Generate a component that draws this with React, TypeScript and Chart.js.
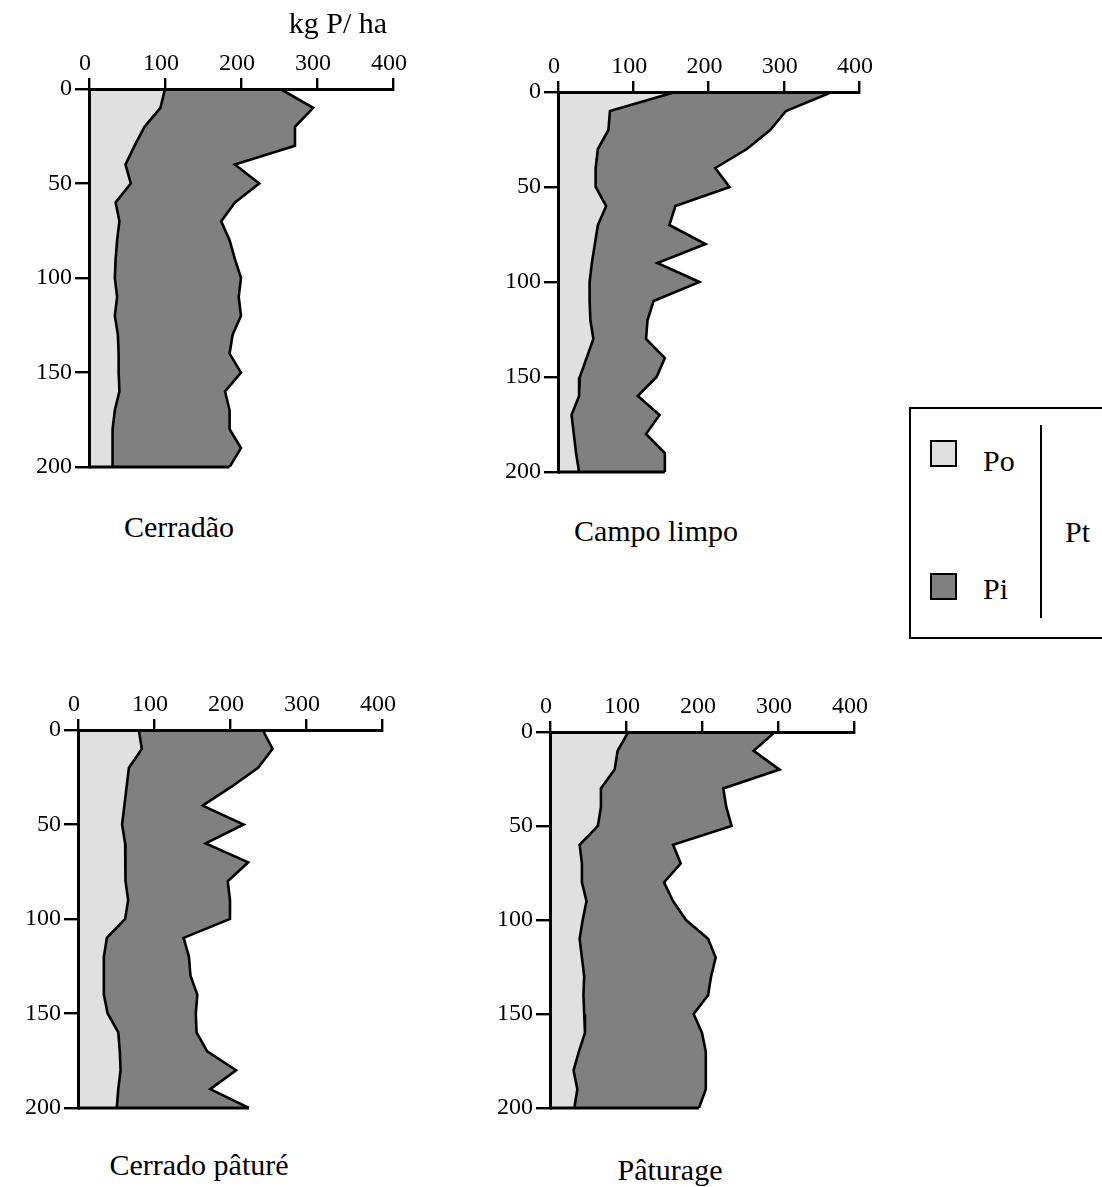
import React, { useEffect, useRef } from 'react';
import { Chart, registerables } from 'chart.js';

Chart.register(...registerables);

// ---- data ----
const depths = [0, 10, 20, 30, 40, 50, 60, 70, 80, 90, 100, 110, 120, 130, 140, 150, 160, 170, 180, 190, 200];
const xTickValues = [0, 100, 200, 300, 400];
const yTickValues = [0, 50, 100, 150, 200];
const axisTitle = 'kg P/ ha';
const panelTitles = ['Cerradão', 'Campo limpo', 'Cerrado pâturé', 'Pâturage'];
const legendLabels = ['Po', 'Pi', 'Pt'];

// Cerradão
const poCerradao = [100, 94, 73, 60, 48, 55, 35, 40, 37, 35, 34, 37, 34, 38, 39, 39, 40, 34, 31, 31, 31];
const ptCerradao = [252, 295, 271, 271, 192, 224, 192, 174, 185, 192, 200, 197, 200, 189, 185, 200, 179, 185, 185, 200, 185];
// Campo limpo
const poCampo = [156, 69, 67, 53, 50, 50, 64, 53, 49, 45, 42, 42, 43, 47, 38, 29, 28, 18, 21, 24, 28];
const ptCampo = [364, 303, 282, 251, 209, 228, 156, 148, 196, 132, 188, 127, 119, 117, 142, 131, 106, 135, 117, 142, 142];
// Cerrado pâturé
const poCerradoPature = [80, 84, 67, 64, 61, 58, 62, 62, 63, 66, 62, 38, 34, 34, 34, 39, 53, 55, 56, 53, 51];
const ptCerradoPature = [243, 256, 237, 202, 164, 218, 168, 224, 197, 200, 200, 139, 146, 148, 157, 155, 156, 170, 208, 174, 225];
// Pâturage
const poPaturage = [103, 89, 85, 67, 67, 63, 39, 42, 42, 48, 43, 39, 42, 45, 44, 45, 46, 38, 31, 36, 32];
const ptPaturage = [296, 268, 302, 228, 232, 239, 162, 172, 150, 162, 179, 208, 218, 212, 208, 189, 200, 205, 205, 205, 196];

// ---- styles ----
const FONT = '"Liberation Serif", "Times New Roman", serif';
const LIGHT = '#e0e0e0';
const DARK = '#808080';
const AXW = 80;
const AXH = 60;
const PR = 25;
const PB = 20;

const bottomEdge = {
  id: 'bottomEdge',
  afterDatasetsDraw(chart: any) {
    const xs = chart.scales.x;
    const ys = chart.scales.y;
    const pts = chart.data.datasets[1].data;
    const last = pts[pts.length - 1];
    const ctx = chart.ctx;
    ctx.save();
    ctx.strokeStyle = '#000';
    ctx.lineWidth = 3;
    ctx.beginPath();
    const yy = ys.getPixelForValue(last.y);
    ctx.moveTo(xs.getPixelForValue(0), yy);
    ctx.lineTo(xs.getPixelForValue(last.x), yy);
    ctx.stroke();
    ctx.restore();
  },
};

type Rect = { l: number; t: number; r: number; b: number };

function Panel({ rect, po, pt }: { rect: Rect; po: number[]; pt: number[] }) {
  const ref = useRef<HTMLCanvasElement | null>(null);
  const w = rect.r - rect.l + AXW + PR;
  const h = rect.b - rect.t + AXH + PB;
  useEffect(() => {
    const tickFont = { family: FONT, size: 24 };
    const chart = new Chart(ref.current as HTMLCanvasElement, {
      type: 'line',
      data: {
        datasets: [
          {
            label: legendLabels[0],
            data: depths.map((d, i) => ({ x: po[i], y: d })),
            borderColor: '#000',
            borderWidth: 2.6,
            backgroundColor: LIGHT,
            fill: 'origin',
            pointRadius: 0,
            tension: 0,
          },
          {
            label: legendLabels[2],
            data: depths.map((d, i) => ({ x: pt[i], y: d })),
            borderColor: '#000',
            borderWidth: 2.6,
            backgroundColor: DARK,
            fill: '-1',
            pointRadius: 0,
            tension: 0,
          },
        ],
      },
      options: {
        indexAxis: 'y',
        animation: false,
        responsive: false,
        maintainAspectRatio: false,
        layout: { padding: { left: 0, top: 0, right: PR, bottom: PB } },
        plugins: { legend: { display: false }, tooltip: { enabled: false } },
        scales: {
          x: {
            type: 'linear',
            position: 'top',
            min: xTickValues[0],
            max: xTickValues[xTickValues.length - 1],
            afterFit: (s: any) => { s.height = AXH; },
            afterBuildTicks: (s: any) => { s.ticks = xTickValues.map((v) => ({ value: v })); },
            ticks: { color: '#000', font: tickFont, padding: 0, maxRotation: 0, autoSkip: false, labelOffset: -4 },
            grid: { drawOnChartArea: false, drawTicks: true, tickLength: 11, color: '#000', lineWidth: 2.4 },
            border: { display: true, color: '#000', width: 3, z: 1 },
          },
          y: {
            type: 'linear',
            reverse: true,
            min: yTickValues[0],
            max: yTickValues[yTickValues.length - 1],
            afterFit: (s: any) => { s.width = AXW; },
            afterBuildTicks: (s: any) => { s.ticks = yTickValues.map((v) => ({ value: v })); },
            ticks: { color: '#000', font: tickFont, padding: 3, autoSkip: false },
            grid: { drawOnChartArea: false, drawTicks: true, tickLength: 14, color: '#000', lineWidth: 2.4 },
            border: { display: true, color: '#000', width: 3, z: 1 },
          },
        },
      } as any,
      plugins: [bottomEdge],
    });
    return () => chart.destroy();
  }, []);
  return (
    <canvas
      ref={ref}
      width={w}
      height={h}
      style={{ position: 'absolute', left: rect.l - AXW, top: rect.t - AXH, width: w, height: h }}
    />
  );
}

function Label({ text, cx, left, top, size }: { text: string; cx?: number; left?: number; top: number; size: number }) {
  const style: any = {
    position: 'absolute',
    top,
    fontFamily: FONT,
    fontSize: size,
    lineHeight: 1,
    whiteSpace: 'nowrap',
    color: '#000',
  };
  if (cx !== undefined) {
    style.left = cx;
    style.transform = 'translateX(-50%)';
  } else {
    style.left = left;
  }
  return <div style={style}>{text}</div>;
}

export default function App() {
  return (
    <div style={{ position: 'absolute', left: 0, top: 0, width: 1102, height: 1187, background: '#fff', overflow: 'hidden' }}>
      <Panel rect={{ l: 89, t: 89, r: 393, b: 467 }} po={poCerradao} pt={ptCerradao} />
      <Panel rect={{ l: 558, t: 92, r: 859, b: 472 }} po={poCampo} pt={ptCampo} />
      <Panel rect={{ l: 78, t: 730, r: 382, b: 1108 }} po={poCerradoPature} pt={ptCerradoPature} />
      <Panel rect={{ l: 550, t: 732, r: 854, b: 1108 }} po={poPaturage} pt={ptPaturage} />

      <Label text={axisTitle} cx={338} top={8} size={30} />
      <Label text={panelTitles[0]} cx={179} top={512} size={30} />
      <Label text={panelTitles[1]} cx={656} top={516} size={30} />
      <Label text={panelTitles[2]} cx={199} top={1150} size={30} />
      <Label text={panelTitles[3]} cx={670} top={1155} size={30} />

      {/* legend */}
      <div style={{ position: 'absolute', left: 909, top: 407, width: 210, height: 232, border: '2px solid #000', boxSizing: 'border-box' }} />
      <div style={{ position: 'absolute', left: 930, top: 440, width: 27, height: 27, border: '2px solid #000', boxSizing: 'border-box', background: LIGHT }} />
      <div style={{ position: 'absolute', left: 930, top: 573, width: 27, height: 27, border: '2px solid #000', boxSizing: 'border-box', background: DARK }} />
      <div style={{ position: 'absolute', left: 1040, top: 425, width: 2, height: 193, background: '#000' }} />
      <Label text={legendLabels[0]} left={983} top={446} size={30} />
      <Label text={legendLabels[1]} left={983} top={574} size={30} />
      <Label text={legendLabels[2]} left={1065} top={517} size={30} />
    </div>
  );
}
